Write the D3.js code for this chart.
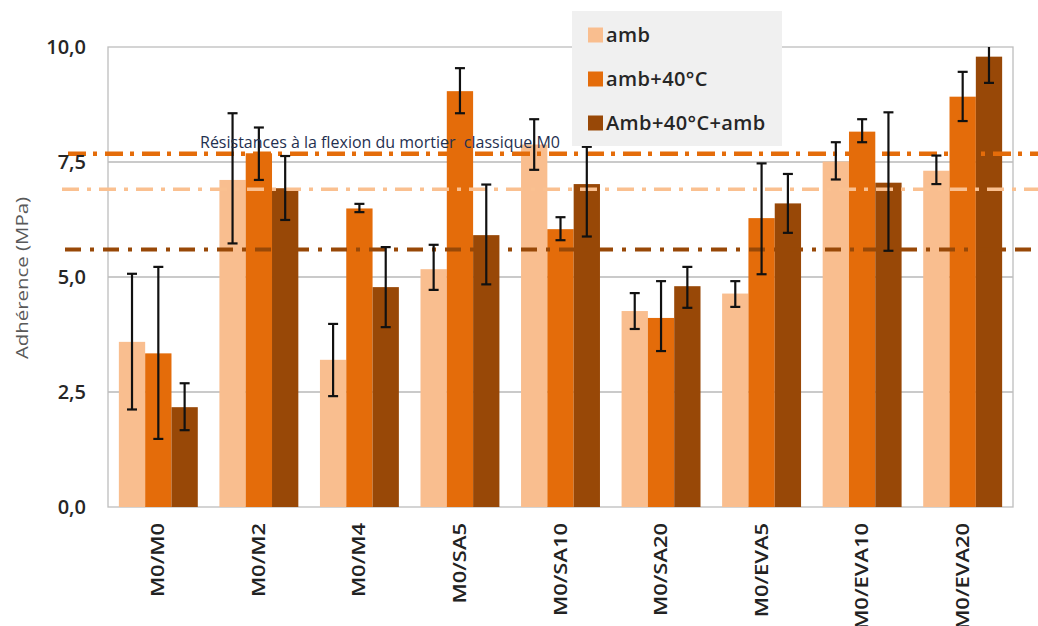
<!DOCTYPE html>
<html><head><meta charset="utf-8">
<script src="https://cdn.jsdelivr.net/npm/d3@7"></script>
<style>
body{margin:0;background:#fff;}
svg{display:block;}
</style></head>
<body><svg id="c" width="1038" height="626"></svg>
<script>
const categories = ["M0/M0","M0/M2","M0/M4","M0/SA5","M0/SA10","M0/SA20","M0/EVA5","M0/EVA10","M0/EVA20"];
const seriesNames = ["amb","amb+40°C","Amb+40°C+amb"];
const ambValues   = [3.59, 7.11, 3.20, 5.17, 7.88, 4.26, 4.64, 7.51, 7.31];
const ambLow      = [2.12, 5.73, 2.41, 4.72, 7.33, 3.87, 4.35, 7.12, 7.02];
const ambHigh     = [5.07, 8.56, 3.98, 5.70, 8.43, 4.65, 4.91, 7.93, 7.64];
const hotValues   = [3.34, 7.69, 6.49, 9.04, 6.04, 4.11, 6.28, 8.16, 8.92];
const hotLow      = [1.48, 7.11, 6.41, 8.56, 5.80, 3.39, 5.06, 7.93, 8.39];
const hotHigh     = [5.22, 8.25, 6.59, 9.54, 6.30, 4.91, 7.47, 8.43, 9.46];
const cycValues   = [2.17, 6.93, 4.78, 5.91, 7.02, 4.80, 6.60, 7.05, 9.79];
const cycLow      = [1.67, 6.24, 3.91, 4.84, 5.88, 4.33, 5.96, 5.57, 9.22];
const cycHigh     = [2.69, 7.63, 5.65, 7.01, 7.83, 5.22, 7.24, 8.58, 10.36];
const refValues   = [7.68, 6.91, 5.60]; // flexion reference lines: amb+40°C, amb, Amb+40°C+amb
const yTicks      = [0, 2.5, 5, 7.5, 10];
const refLabel    = "Résistances à la flexion du mortier  classique M0";
const yTitle      = "Adhérence (MPa)";

const colors = ["#f9be8f", "#e46c0a", "#984807"];
const refColors = ["#e46c0a", "#fac090", "#984807"];

const svg = d3.select("#c");
const L = 108, R = 1013, T = 47, B = 507;

const x0 = d3.scaleBand().domain(categories).range([L, R]).paddingInner(0.215).paddingOuter(0.108);
const x1 = d3.scaleBand().domain(seriesNames).range([0, x0.bandwidth()]);
const y = d3.scaleLinear().domain([0, 10]).range([B, T]);

const seriesData = [
  {vals: ambValues, lo: ambLow, hi: ambHigh},
  {vals: hotValues, lo: hotLow, hi: hotHigh},
  {vals: cycValues, lo: cycLow, hi: cycHigh}
];

// gridlines
svg.append("g").selectAll("line").data(yTicks.filter(d => d > 0 && d < 10)).join("line")
  .attr("x1", L).attr("x2", R).attr("y1", d => y(d)).attr("y2", d => y(d))
  .attr("stroke", "#b8b8b8").attr("stroke-width", 1.3);

// plot frame
svg.append("rect").attr("x", L).attr("y", T).attr("width", R - L).attr("height", B - T)
  .attr("fill", "none").attr("stroke", "#bdbdbd").attr("stroke-width", 1.3);

const clip = svg.append("clipPath").attr("id", "pc").append("rect")
  .attr("x", L - 20).attr("y", T).attr("width", R - L + 40).attr("height", B - T + 2);

// bars
seriesData.forEach((s, si) => {
  svg.append("g").selectAll("rect").data(categories).join("rect")
    .attr("x", c => x0(c) + x1(seriesNames[si]))
    .attr("width", x1.bandwidth())
    .attr("y", (c, i) => y(s.vals[i]))
    .attr("height", (c, i) => y(0) - y(s.vals[i]))
    .attr("fill", colors[si]);
});

// reference lines
const refDash = ["18,7,4,8", "17,8,4,8", "16,9,4,9"];
const refWidth = [4.5, 3.5, 4];
const refStart = [68, 62, 65];
svg.append("g").selectAll("line").data(refValues).join("line")
  .attr("x1", (d, i) => refStart[i]).attr("x2", 1038)
  .attr("y1", d => y(d)).attr("y2", d => y(d))
  .attr("stroke", (d, i) => refColors[i])
  .attr("stroke-width", (d, i) => refWidth[i])
  .attr("stroke-dasharray", (d, i) => refDash[i]);

// error bars
const eg = svg.append("g").attr("clip-path", "url(#pc)");
seriesData.forEach((s, si) => {
  categories.forEach((c, i) => {
    const cx = x0(c) + x1(seriesNames[si]) + x1.bandwidth() / 2;
    const g = eg.append("g").attr("stroke", "#111").attr("stroke-width", 2.2);
    g.append("line").attr("x1", cx).attr("x2", cx).attr("y1", y(s.lo[i])).attr("y2", y(s.hi[i]));
    g.append("line").attr("x1", cx - 5).attr("x2", cx + 5).attr("y1", y(s.lo[i])).attr("y2", y(s.lo[i]));
    g.append("line").attr("x1", cx - 5).attr("x2", cx + 5).attr("y1", y(s.hi[i])).attr("y2", y(s.hi[i]));
  });
});

// reference label
svg.append("text").attr("x", 200).attr("y", 148)
  .attr("font-family", "'Open Sans', sans-serif").attr("font-size", 16)
  .attr("fill", "#1f3050").attr("xml:space", "preserve").text(refLabel);

// y axis labels
const fmt = d => d3.format(".1f")(d).replace(".", ",");
svg.append("g").selectAll("text").data(yTicks).join("text")
  .attr("x", 86).attr("y", d => y(d) + 7)
  .attr("text-anchor", "end")
  .attr("font-family", "'Open Sans', sans-serif").attr("font-size", 20).attr("font-weight", 600)
  .attr("fill", "#262626").text(fmt);

// y title
svg.append("text")
  .attr("transform", `translate(28,${(T + B) / 2 + 1}) rotate(-90) scale(1.2,1)`)
  .attr("text-anchor", "middle")
  .attr("font-family", "'Open Sans', sans-serif").attr("font-size", 17)
  .attr("fill", "#595959").text(yTitle);

// x labels
svg.append("g").selectAll("text").data(categories).join("text")
  .attr("transform", c => `translate(${x0(c) + x0.bandwidth() / 2 + 6},${B + 16}) rotate(-90) scale(1.22,1)`)
  .attr("text-anchor", "end")
  .attr("font-family", "'Open Sans', sans-serif").attr("font-size", 18).attr("font-weight", 600)
  .attr("fill", "#222").text(c => c);

// legend
const lg = svg.append("g");
lg.append("rect").attr("x", 572).attr("y", 11).attr("width", 210).attr("height", 135).attr("fill", "#f0f0f0");
const ly = d3.scalePoint().domain(seriesNames).range([35, 123]);
lg.selectAll("rect.k").data(seriesNames).join("rect").attr("class", "k")
  .attr("x", 588).attr("y", d => ly(d) - 7.5).attr("width", 15).attr("height", 15)
  .attr("fill", (d, i) => colors[i]);
lg.selectAll("text").data(seriesNames).join("text")
  .attr("x", 606).attr("y", d => ly(d) + 7)
  .attr("font-family", "'Open Sans', sans-serif").attr("font-size", 20).attr("font-weight", 600)
  .attr("letter-spacing", 0.4)
  .attr("fill", "#262626").text(d => d);
</script>
</body></html>
